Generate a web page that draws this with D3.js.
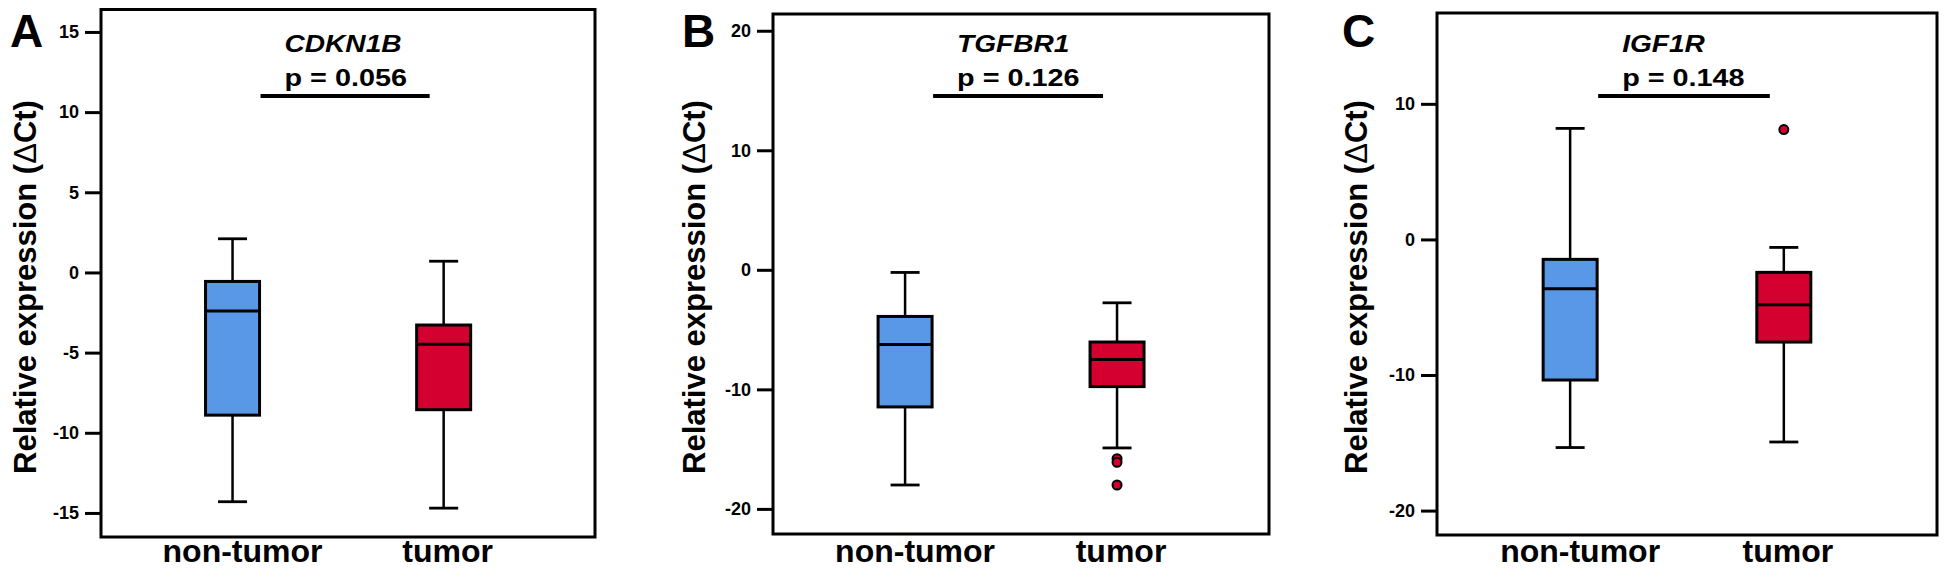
<!DOCTYPE html>
<html><head><meta charset="utf-8">
<script src="https://cdn.jsdelivr.net/npm/d3@7"></script>
<style>body{margin:0;background:#fff}svg{display:block}</style>
</head><body><svg id="chart" width="1949" height="574"></svg>
<script>
// ---- data ----
const genes = ["CDKN1B", "TGFBR1", "IGF1R"];
const pLabels = ["p = 0.056", "p = 0.126", "p = 0.148"];
const panelLetters = ["A", "B", "C"];
const groups = ["non-tumor", "tumor"];
const yTicksA = [-15, -10, -5, 0, 5, 10, 15];
const yTicksB = [-20, -10, 0, 10, 20];
const yTicksC = [-20, -10, 0, 10];
const yDomainA = [-16.5, 16.4];
const yDomainB = [-22.1, 21.4];
const yDomainC = [-21.8, 16.7];
// box statistics: [lower whisker, Q1, median, Q3, upper whisker]
const cdkn1bNonTumor = [-14.3, -8.9, -2.4, -0.56, 2.1];
const cdkn1bTumor = [-14.7, -8.56, -4.48, -3.28, 0.7];
const tgfbr1NonTumor = [-18.0, -11.47, -6.25, -3.9, -0.22];
const tgfbr1Tumor = [-14.9, -9.77, -7.5, -6.04, -2.76];
const igf1rNonTumor = [-15.35, -10.37, -3.64, -1.47, 8.19];
const igf1rTumor = [-14.94, -7.57, -4.81, -2.43, -0.59];
const cdkn1bOutliersNonTumor = [];
const cdkn1bOutliersTumor = [];
const tgfbr1OutliersNonTumor = [];
const tgfbr1OutliersTumor = [-15.8, -16.1, -18.0];
const igf1rOutliersNonTumor = [];
const igf1rOutliersTumor = [8.1];

// ---- layout / style ----
const colors = ["#5898e6", "#d40030"];
const font = "'Liberation Sans', Arial, sans-serif";
const frames = [
  {x0: 101, x1: 595, y0: 9.5, y1: 537, ylab: 36, letterX: 10},
  {x0: 773, x1: 1269, y0: 14, y1: 534, ylab: 705, letterX: 682},
  {x0: 1437, x1: 1937, y0: 13, y1: 535, ylab: 1367, letterX: 1342}
];
const panelData = [
  {ticks: yTicksA, dom: yDomainA, stats: [cdkn1bNonTumor, cdkn1bTumor], out: [cdkn1bOutliersNonTumor, cdkn1bOutliersTumor]},
  {ticks: yTicksB, dom: yDomainB, stats: [tgfbr1NonTumor, tgfbr1Tumor], out: [tgfbr1OutliersNonTumor, tgfbr1OutliersTumor]},
  {ticks: yTicksC, dom: yDomainC, stats: [igf1rNonTumor, igf1rTumor], out: [igf1rOutliersNonTumor, igf1rOutliersTumor]}
];

const svg = d3.select("#chart").style("font-family", font);
const boxW = 54, capW = 29;

panelData.forEach((pd, i) => {
  const f = frames[i];
  const g = svg.append("g");
  const y = d3.scaleLinear().domain(pd.dom).range([f.y1, f.y0]);
  const x = d3.scalePoint().domain(groups).range([f.x0, f.x1]).padding(0.67).align(0.465);

  // axis
  const ax = g.append("g").attr("transform", `translate(${f.x0},0)`)
    .call(d3.axisLeft(y).tickValues(pd.ticks).tickSize(16).tickPadding(6).tickFormat(d => String(d)));
  ax.select(".domain").remove();
  ax.selectAll(".tick line").attr("stroke", "#000").attr("stroke-width", 3);
  ax.selectAll(".tick text").attr("fill", "#000").style("font-family", font)
    .style("font-size", "18px").style("font-weight", "bold");

  // frame
  g.append("rect").attr("x", f.x0).attr("y", f.y0)
    .attr("width", f.x1 - f.x0).attr("height", f.y1 - f.y0)
    .attr("fill", "none").attr("stroke", "#000").attr("stroke-width", 3);

  // boxes
  groups.forEach((grp, j) => {
    const s = pd.stats[j];
    const cx = x(grp);
    const bg = g.append("g");
    bg.append("line").attr("x1", cx).attr("x2", cx).attr("y1", y(s[0])).attr("y2", y(s[4]))
      .attr("stroke", "#000").attr("stroke-width", 2.5);
    [s[0], s[4]].forEach(v => bg.append("line").attr("x1", cx - capW / 2).attr("x2", cx + capW / 2)
      .attr("y1", y(v)).attr("y2", y(v)).attr("stroke", "#000").attr("stroke-width", 2.8));
    bg.append("rect").attr("x", cx - boxW / 2).attr("width", boxW)
      .attr("y", y(s[3])).attr("height", y(s[1]) - y(s[3]))
      .attr("fill", colors[j]).attr("stroke", "#000").attr("stroke-width", 3);
    bg.append("line").attr("x1", cx - boxW / 2).attr("x2", cx + boxW / 2)
      .attr("y1", y(s[2])).attr("y2", y(s[2])).attr("stroke", "#000").attr("stroke-width", 3);
    bg.selectAll("circle.o").data(pd.out[j]).enter().append("circle")
      .attr("cx", cx).attr("cy", v => y(v)).attr("r", 4.5)
      .attr("fill", colors[j]).attr("stroke", "#000").attr("stroke-width", 2);

    // x label
    g.append("text").attr("x", cx + (j === 0 ? 10 : 4)).attr("y", 562)
      .attr("text-anchor", "middle").style("font-size", "32px").style("font-weight", "bold")
      .text(grp);
  });

  // significance bar and titles
  const ls = x(groups[0]) + 28, le = x(groups[1]) - 14;
  g.append("line").attr("x1", ls).attr("x2", le).attr("y1", 96).attr("y2", 96)
    .attr("stroke", "#000").attr("stroke-width", 4);
  const title = g.append("text").attr("x", ls + 24).attr("y", 52)
    .style("font-size", "24px").style("font-weight", "bold").style("font-style", "italic")
    .text(genes[i]);
  title.attr("textLength", title.node().getComputedTextLength() * 1.17).attr("lengthAdjust", "spacingAndGlyphs");
  const pt = g.append("text").attr("x", ls + 24).attr("y", 86)
    .style("font-size", "24px").style("font-weight", "bold").text(pLabels[i]);
  pt.attr("textLength", pt.node().getComputedTextLength() * 1.2).attr("lengthAdjust", "spacingAndGlyphs");

  // y label
  const yl = g.append("text").attr("transform", `translate(${f.ylab},287) rotate(-90)`)
    .attr("text-anchor", "middle").style("font-size", "31px").style("font-weight", "bold");
  yl.append("tspan").text("Relative expression (");
  yl.append("tspan").style("font-weight", "normal").text("Δ");
  yl.append("tspan").text("Ct)");

  // panel letter
  g.append("text").attr("x", f.letterX).attr("y", 47)
    .style("font-size", "46px").style("font-weight", "bold").text(panelLetters[i]);
});
</script></body></html>
